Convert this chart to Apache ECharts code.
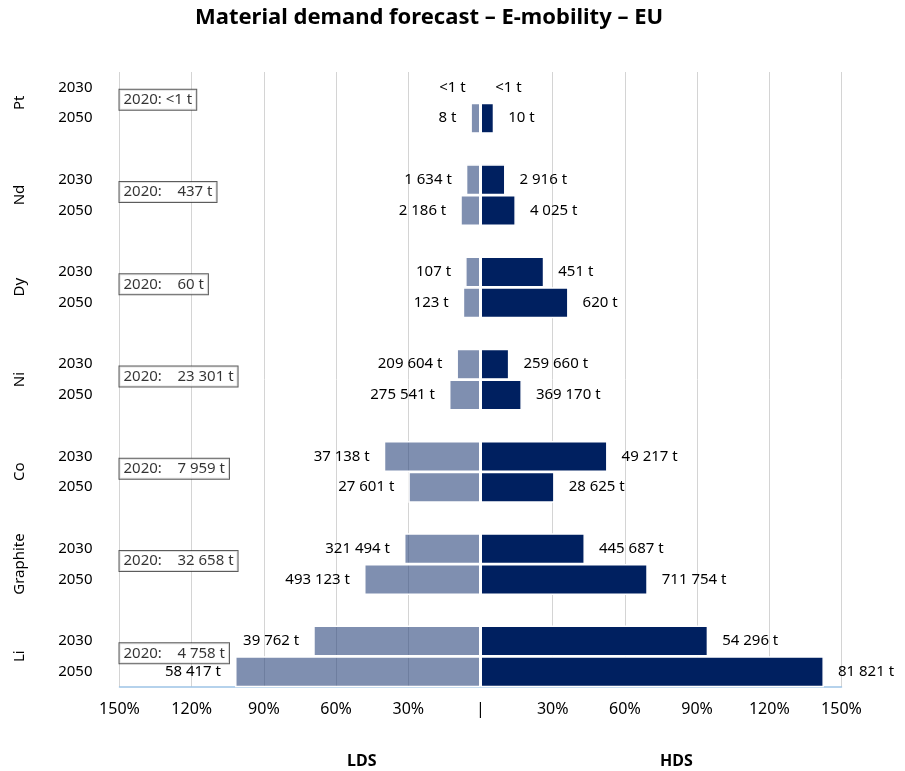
<!DOCTYPE html>
<html lang="en">
<head>
    <meta charset="utf-8">
    <script src="https://cdn.jsdelivr.net/npm/echarts@6/dist/echarts.min.js"></script>
    <style>
        html, body { margin: 0; padding: 0; background: #fff; }
        #chart { width: 905px; height: 771px; }
    </style>
</head>
<body>
<div id="chart"></div>
<script>
// materials, top to bottom
const groups = ['Pt', 'Nd', 'Dy', 'Ni', 'Co', 'Graphite', 'Li']
const years = ['2030', '2050']

// bar length, % (LDS drawn to the left)
const ldsShare2030 = [0, 6.1, 6.4, 10.0, 40.2, 31.8, 69.5]
const ldsShare2050 = [4.2, 8.4, 7.4, 13.1, 30.0, 48.4, 102.0]
const hdsShare2030 = [0, 10.4, 26.5, 12.0, 52.8, 43.4, 94.6]
const hdsShare2050 = [5.7, 14.7, 36.6, 17.2, 30.8, 69.5, 142.7]

// tonnes shown next to the bars
const ldsTonnes2030 = ['<1 t', '1 634 t', '107 t', '209 604 t', '37 138 t', '321 494 t', '39 762 t']
const ldsTonnes2050 = ['8 t', '2 186 t', '123 t', '275 541 t', '27 601 t', '493 123 t', '58 417 t']
const hdsTonnes2030 = ['<1 t', '2 916 t', '451 t', '259 660 t', '49 217 t', '445 687 t', '54 296 t']
const hdsTonnes2050 = ['10 t', '4 025 t', '620 t', '369 170 t', '28 625 t', '711 754 t', '81 821 t']

// 2020 demand boxes
const base2020 = ['<1 t', '437 t', '60 t', '23 301 t', '7 959 t', '32 658 t', '4 758 t']

const xTicks = [-150, -120, -90, -60, -30, 0, 30, 60, 90, 120, 150]

const font = 'Noto Sans'

// category rows: 2030, 2050, blank gap between groups
let rows = [], lds = [], hds = []
groups.forEach((g, i) => {
    rows.push(years[0], years[1])
    lds.push({value: -ldsShare2030[i], t: ldsTonnes2030[i]}, {value: -ldsShare2050[i], t: ldsTonnes2050[i]})
    hds.push({value: hdsShare2030[i], t: hdsTonnes2030[i]}, {value: hdsShare2050[i], t: hdsTonnes2050[i]})
    if (i < groups.length - 1) {
        rows.push('')
        lds.push(null)
        hds.push(null)
    }
})

let boxes = groups.map((g, i) => ({
    value: [xTicks[0], i * 3 + 1],
    txt: '2020:' + (base2020[i] === '<1 t' ? ' ' : '    ') + base2020[i]
}))

let chart = echarts.init(document.querySelector('#chart'))
chart.setOption({
    animation: false,
    textStyle: {fontFamily: font},
    title: [
        {text: 'Material demand forecast \u2013 E-mobility \u2013 EU', left: 190, top: 2,
         textStyle: {fontFamily: font, fontSize: 22, fontWeight: 'bold', color: '#000'}},
        {text: 'LDS', left: 342, top: 748,
         textStyle: {fontFamily: font, fontSize: 16, fontWeight: 'bold', color: '#000'}},
        {text: 'HDS', left: 655, top: 748,
         textStyle: {fontFamily: font, fontSize: 16, fontWeight: 'bold', color: '#000'}}
    ],
    grid: {left: 119.5, right: 63.5, top: 72, bottom: 84, containLabel: false},
    xAxis: {
        type: 'value', min: -150, max: 150, interval: 30, position: 'bottom',
        axisLine: {show: true, onZero: false, lineStyle: {color: '#9dc3e6', width: 1.5}},
        axisTick: {show: false},
        axisLabel: {
            margin: 14, fontSize: 16, color: '#000',
            formatter: v => v === 0 ? '|' : Math.abs(v) + '%'
        },
        splitLine: {show: true, lineStyle: {
            color: xTicks.map(v => v === 0 ? 'rgba(0,0,0,0)' : '#d4d4d4'), width: 1}}
    },
    yAxis: [
        {
            type: 'category', data: rows, inverse: true,
            axisLine: {show: false}, axisTick: {show: false},
            axisLabel: {margin: 27, fontSize: 15, color: '#000'}
        },
        {
            type: 'value', min: 0, max: rows.length, interval: 1, inverse: true,
            position: 'left',
            axisLine: {show: false}, axisTick: {show: false}, splitLine: {show: false},
            axisLabel: {
                rotate: 90, margin: 92, fontSize: 15, color: '#000',
                formatter: v => (v - 1) % 3 === 0 ? groups[(v - 1) / 3] : ''
            }
        }
    ],
    series: [
        {
            name: 'LDS', type: 'bar', data: lds, barWidth: 31, barGap: '-100%',
            itemStyle: {color: 'rgba(42,68,123,0.6)', borderColor: '#fff', borderWidth: 1.5},
            label: {show: true, position: 'left', distance: 14, fontSize: 15, color: '#000',
                    formatter: p => p.data.t}
        },
        {
            name: 'HDS', type: 'bar', data: hds, barWidth: 31, barGap: '-100%',
            itemStyle: {color: '#002060', borderColor: '#fff', borderWidth: 1.5},
            label: {show: true, position: 'right', distance: 14, fontSize: 15, color: '#000',
                    formatter: p => p.data.t}
        },
        {
            type: 'scatter', xAxisIndex: 0, yAxisIndex: 1, data: boxes,
            symbolSize: 0, silent: true,
            label: {
                show: true, position: 'right', distance: 0, offset: [0, -3],
                fontSize: 15, color: '#000', backgroundColor: '#fff',
                borderColor: '#333', borderWidth: 1, padding: [3, 4, 2, 4],
                formatter: p => p.data.txt
            }
        }
    ]
})
</script>
</body>
</html>
